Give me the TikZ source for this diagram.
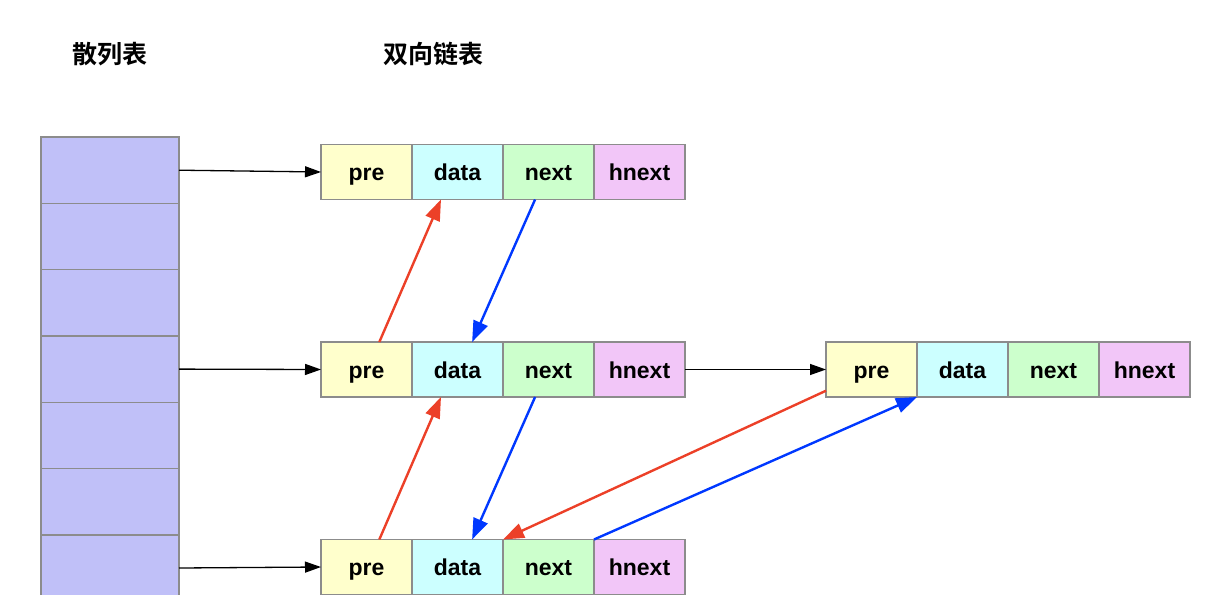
\documentclass[tikz,border=0pt]{standalone}
\usepackage{fontspec}
\setmainfont{Liberation Sans}
\newfontfamily\cjk{Noto Sans CJK SC Bold}
\usetikzlibrary{positioning,arrows.meta}

\definecolor{slotblue}{RGB}{192,192,248}
\definecolor{prefill}{RGB}{255,255,204}
\definecolor{datafill}{RGB}{204,255,255}
\definecolor{nextfill}{RGB}{204,255,204}
\definecolor{hnextfill}{RGB}{242,198,248}
\definecolor{cellgray}{RGB}{140,140,140}
\definecolor{preline}{RGB}{236,64,40}
\definecolor{nextline}{RGB}{0,56,255}

\begin{document}
\begin{tikzpicture}[x=1pt,y=-1pt,
  cell/.style={draw=cellgray,line width=1.5pt,minimum width=91pt,minimum height=55pt,inner sep=0,outer sep=0,text height=20pt,text depth=3pt,font=\bfseries\fontsize{23}{27}\selectfont},
  slot/.style={draw=cellgray,line width=1.5pt,fill=slotblue,minimum width=138pt,minimum height=66.3pt,inner sep=0,outer sep=0},
  title/.style={font=\cjk\fontsize{25}{29}\selectfont},
  link/.style={line width=1.3pt,-{Triangle[length=16pt,width=11pt]}},
  prelink/.style={preline,line width=2.4pt,-{Triangle[length=21pt,width=15pt]}},
  nextlink/.style={nextline,line width=2.4pt,-{Triangle[length=21pt,width=15pt]}}]

\useasboundingbox (0,0) rectangle (1212,594);
\clip (0,0) rectangle (1212,594);

\node [title] (hashtitle) at (110,54) {散列表};
\node [title] (listtitle) at (433,54) {双向链表};

% hash table
\foreach \i in {1,...,7}
  \node [slot] (h\i) at (110,{170.2+(\i-1)*66.3}) {};

% first list
\node [cell,fill=prefill] (Apre) at (366.5,172) {pre};
\node [cell,fill=datafill,right=0pt of Apre] (Adata) {data};
\node [cell,fill=nextfill,right=0pt of Adata] (Anext) {next};
\node [cell,fill=hnextfill,right=0pt of Anext] (Ahnext) {hnext};

\node [cell,fill=prefill] (Bpre) at (366.5,369.5) {pre};
\node [cell,fill=datafill,right=0pt of Bpre] (Bdata) {data};
\node [cell,fill=nextfill,right=0pt of Bdata] (Bnext) {next};
\node [cell,fill=hnextfill,right=0pt of Bnext] (Bhnext) {hnext};

\node [cell,fill=prefill] (Cpre) at (366.5,567) {pre};
\node [cell,fill=datafill,right=0pt of Cpre] (Cdata) {data};
\node [cell,fill=nextfill,right=0pt of Cdata] (Cnext) {next};
\node [cell,fill=hnextfill,right=0pt of Cnext] (Chnext) {hnext};

% second list
\node [cell,fill=prefill] (Dpre) at (871.5,369.5) {pre};
\node [cell,fill=datafill,right=0pt of Dpre] (Ddata) {data};
\node [cell,fill=nextfill,right=0pt of Ddata] (Dnext) {next};
\node [cell,fill=hnextfill,right=0pt of Dnext] (Dhnext) {hnext};

\draw [link] (h1.east) -- (Apre.west);
\draw [link] (h4.east) -- (Bpre.west);
\draw [link] (h7.east) -- (Cpre.west);
\draw [link] (Bhnext.east) -- (Dpre.west);

\draw [prelink] (Bpre.65) -- (Adata.239);
\draw [prelink] (Cpre.65) -- (Bdata.239);
\draw [nextlink] (Anext.244) -- (Bdata.62);
\draw [nextlink] (Bnext.244) -- (Cdata.62);

\draw [prelink] (Dpre.205) -- (Cdata.north east);
\draw [nextlink] (Chnext.north west) -- (Ddata.south west);

\end{tikzpicture}
\end{document}
